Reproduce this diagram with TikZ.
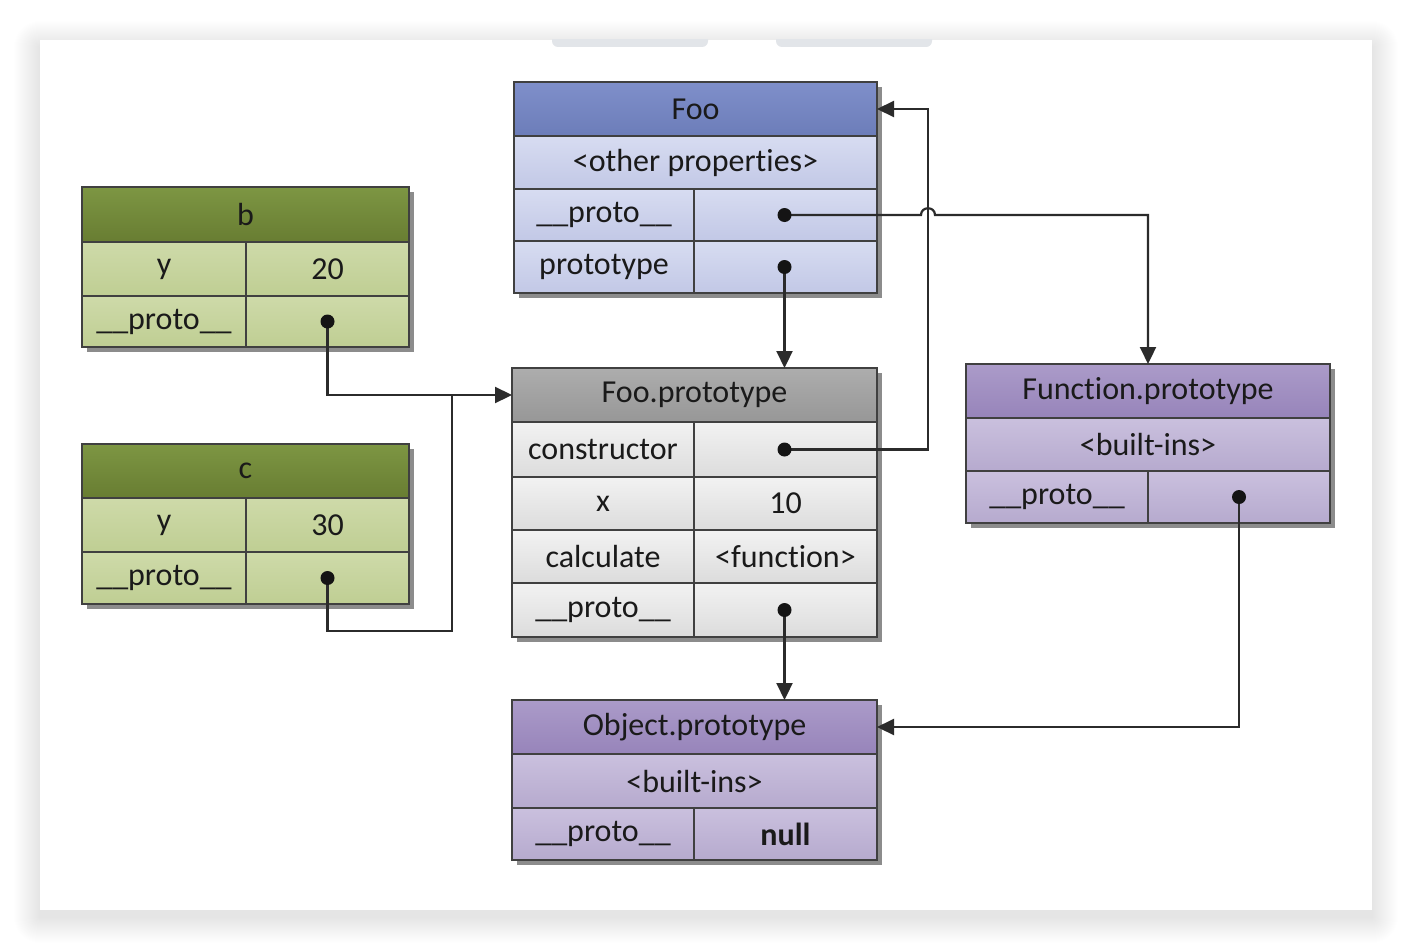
\documentclass[tikz,border=0pt]{standalone}
\usepackage{fontspec}
\setmainfont{Carlito}[Ligatures=NoCommon]
\usetikzlibrary{arrows.meta,calc}
\definecolor{fooT}{HTML}{7F8FCA}
\definecolor{fooB}{HTML}{6C7DB9}
\definecolor{fooRT}{HTML}{D7DCF1}
\definecolor{fooRB}{HTML}{C2C8E6}
\definecolor{grnT}{HTML}{7D9643}
\definecolor{grnB}{HTML}{687D32}
\definecolor{grnRT}{HTML}{CEDAA9}
\definecolor{grnRB}{HTML}{BFCE93}
\definecolor{gryT}{HTML}{ADADAD}
\definecolor{gryB}{HTML}{979797}
\definecolor{gryRT}{HTML}{F2F2F2}
\definecolor{gryRB}{HTML}{DCDCDC}
\definecolor{purT}{HTML}{AB9BC9}
\definecolor{purB}{HTML}{9784BA}
\definecolor{purRT}{HTML}{CAC0DE}
\definecolor{purRB}{HTML}{B6AACE}
\definecolor{edge}{HTML}{404040}
\definecolor{txt}{HTML}{1A1A1A}
\definecolor{wire}{HTML}{2B2B2B}
\definecolor{boxshade}{HTML}{8C8C8C}
\definecolor{barc}{HTML}{E2E5E9}
\begin{document}
\begin{tikzpicture}[x=1pt,y=-1pt,
  cell/.style={draw=edge,line width=1.8pt,inner sep=0pt,outer sep=0pt,anchor=north west,
    font=\fontsize{32}{38}\selectfont,text=txt},
  fooH/.style={cell,top color=fooT,bottom color=fooB},
  fooR/.style={cell,top color=fooRT,bottom color=fooRB},
  grnH/.style={cell,top color=grnT,bottom color=grnB},
  grnR/.style={cell,top color=grnRT,bottom color=grnRB},
  gryH/.style={cell,top color=gryT,bottom color=gryB},
  gryR/.style={cell,top color=gryRT,bottom color=gryRB},
  purH/.style={cell,top color=purT,bottom color=purB},
  purR/.style={cell,top color=purRT,bottom color=purRB},
  dot/.style={circle,fill=black!92,inner sep=0pt,minimum size=14pt},
  conn/.style={draw=wire,line width=2.2pt},
  arr/.style={conn,-{Triangle[length=17pt,width=16pt]}},
  shade/.style={fill=boxshade}
]
\useasboundingbox (0,0) rectangle (1412,950);
% page and card
\fill[white] (0,0) rectangle (1412,950);
\foreach \i in {1,...,26}
  \fill[black,opacity=0.005,rounded corners=\i pt] (40-\i,47-\i) rectangle (1372+\i,917+\i);
\fill[white] (40,40) rectangle (1372,910);
\begin{scope}
  \clip (40,40) rectangle (1372,910);
  \fill[barc,rounded corners=6pt] (552,28) rectangle (708,47);
  \fill[barc,rounded corners=6pt] (776,28) rectangle (932,47);
\end{scope}

% box shadows
\fill[shade] (519,87) rectangle (882,298);
\fill[shade] (87,192) rectangle (414,352);
\fill[shade] (87,449) rectangle (414,609);
\fill[shade] (517,373) rectangle (882,642);
\fill[shade] (971,369) rectangle (1335,528);
\fill[shade] (517,705) rectangle (882,865);

% Foo
\node[fooH,minimum width=363pt,minimum height=54pt] (foo) at (514,82) {Foo};
\node[fooR,minimum width=363pt,minimum height=53pt] (foo-o) at (514,136) {<other properties>};
\node[fooR,minimum width=180pt,minimum height=52pt] (foo-pk) at (514,189) {\_\_proto\_\_};
\node[fooR,minimum width=183pt,minimum height=52pt] (foo-pv) at (694,189) {};
\node[fooR,minimum width=180pt,minimum height=52pt] (foo-tk) at (514,241) {prototype};
\node[fooR,minimum width=183pt,minimum height=52pt] (foo-tv) at (694,241) {};

% b
\node[grnH,minimum width=327pt,minimum height=55pt] (b) at (82,187) {b};
\node[grnR,minimum width=164pt,minimum height=54pt] (b-yk) at (82,242) {y};
\node[grnR,minimum width=163pt,minimum height=54pt] (b-yv) at (246,242) {20};
\node[grnR,minimum width=164pt,minimum height=51pt] (b-pk) at (82,296) {\_\_proto\_\_};
\node[grnR,minimum width=163pt,minimum height=51pt] (b-pv) at (246,296) {};

% c
\node[grnH,minimum width=327pt,minimum height=54pt] (c) at (82,444) {c};
\node[grnR,minimum width=164pt,minimum height=54pt] (c-yk) at (82,498) {y};
\node[grnR,minimum width=163pt,minimum height=54pt] (c-yv) at (246,498) {30};
\node[grnR,minimum width=164pt,minimum height=52pt] (c-pk) at (82,552) {\_\_proto\_\_};
\node[grnR,minimum width=163pt,minimum height=52pt] (c-pv) at (246,552) {};

% Foo.prototype
\node[gryH,minimum width=365pt,minimum height=54pt] (fp) at (512,368) {Foo.prototype};
\node[gryR,minimum width=182pt,minimum height=55pt] (fp-ck) at (512,422) {constructor};
\node[gryR,minimum width=183pt,minimum height=55pt] (fp-cv) at (694,422) {};
\node[gryR,minimum width=182pt,minimum height=53pt] (fp-xk) at (512,477) {x};
\node[gryR,minimum width=183pt,minimum height=53pt] (fp-xv) at (694,477) {10};
\node[gryR,minimum width=182pt,minimum height=53pt] (fp-fk) at (512,530) {calculate};
\node[gryR,minimum width=183pt,minimum height=53pt] (fp-fv) at (694,530) {<function>};
\node[gryR,minimum width=182pt,minimum height=54pt] (fp-pk) at (512,583) {\_\_proto\_\_};
\node[gryR,minimum width=183pt,minimum height=54pt] (fp-pv) at (694,583) {};

% Function.prototype
\node[purH,minimum width=364pt,minimum height=54pt] (fn) at (966,364) {Function.prototype};
\node[purR,minimum width=364pt,minimum height=53pt] (fn-b) at (966,418) {<built-ins>};
\node[purR,minimum width=182pt,minimum height=52pt] (fn-pk) at (966,471) {\_\_proto\_\_};
\node[purR,minimum width=182pt,minimum height=52pt] (fn-pv) at (1148,471) {};

% Object.prototype
\node[purH,minimum width=365pt,minimum height=54pt] (obj) at (512,700) {Object.prototype};
\node[purR,minimum width=365pt,minimum height=54pt] (obj-b) at (512,754) {<built-ins>};
\node[purR,minimum width=182pt,minimum height=52pt] (obj-pk) at (512,808) {\_\_proto\_\_};
\node[purR,minimum width=183pt,minimum height=52pt] (obj-pv) at (694,808) {\textbf{null}};

% helper coordinates
\coordinate (hopL) at (921,215);
\coordinate (hopR) at (935,215);
\coordinate (fnturn) at (1148,215);
\coordinate (rail) at (928,109);
\coordinate (cjoin) at (452,631);

% connectors
\draw[arr] (foo-pv.center) -- (hopL) .. controls +(0,-9) and +(0,-9) .. (hopR) -- (fnturn) -- (fnturn |- fn.north);
\draw[arr] (foo-tv.center) ++(-1,0) coordinate (td) (td) -- (td |- fp.north);
\draw[arr] (fp-cv.center) ++(-1,0) coordinate (cd) (cd) -| (rail) -- (foo.east);
\draw[arr] (b-pv.center) -- (b-pv.center |- fp.west) -- (fp.west);
\draw[conn] (c-pv.center) |- (cjoin) -- (cjoin |- fp.west);
\draw[arr] (fp-pv.center) ++(-1,0) coordinate (pd) (pd) -- (pd |- obj.north);
\draw[arr] (fn-pv.center) ++(0,0) coordinate (fd) (fd) |- (obj.east);

% dots
\node[dot] (foo-pd) at (td |- foo-pv.center) {};
\node[dot] (foo-td) at (td) {};
\node[dot] (fp-cd) at (cd) {};
\node[dot] (fp-pd) at (pd) {};
\node[dot] (b-d) at (b-pv.center) {};
\node[dot] (c-d) at (c-pv.center) {};
\node[dot] (fn-d) at (fd) {};
\end{tikzpicture}
\end{document}
